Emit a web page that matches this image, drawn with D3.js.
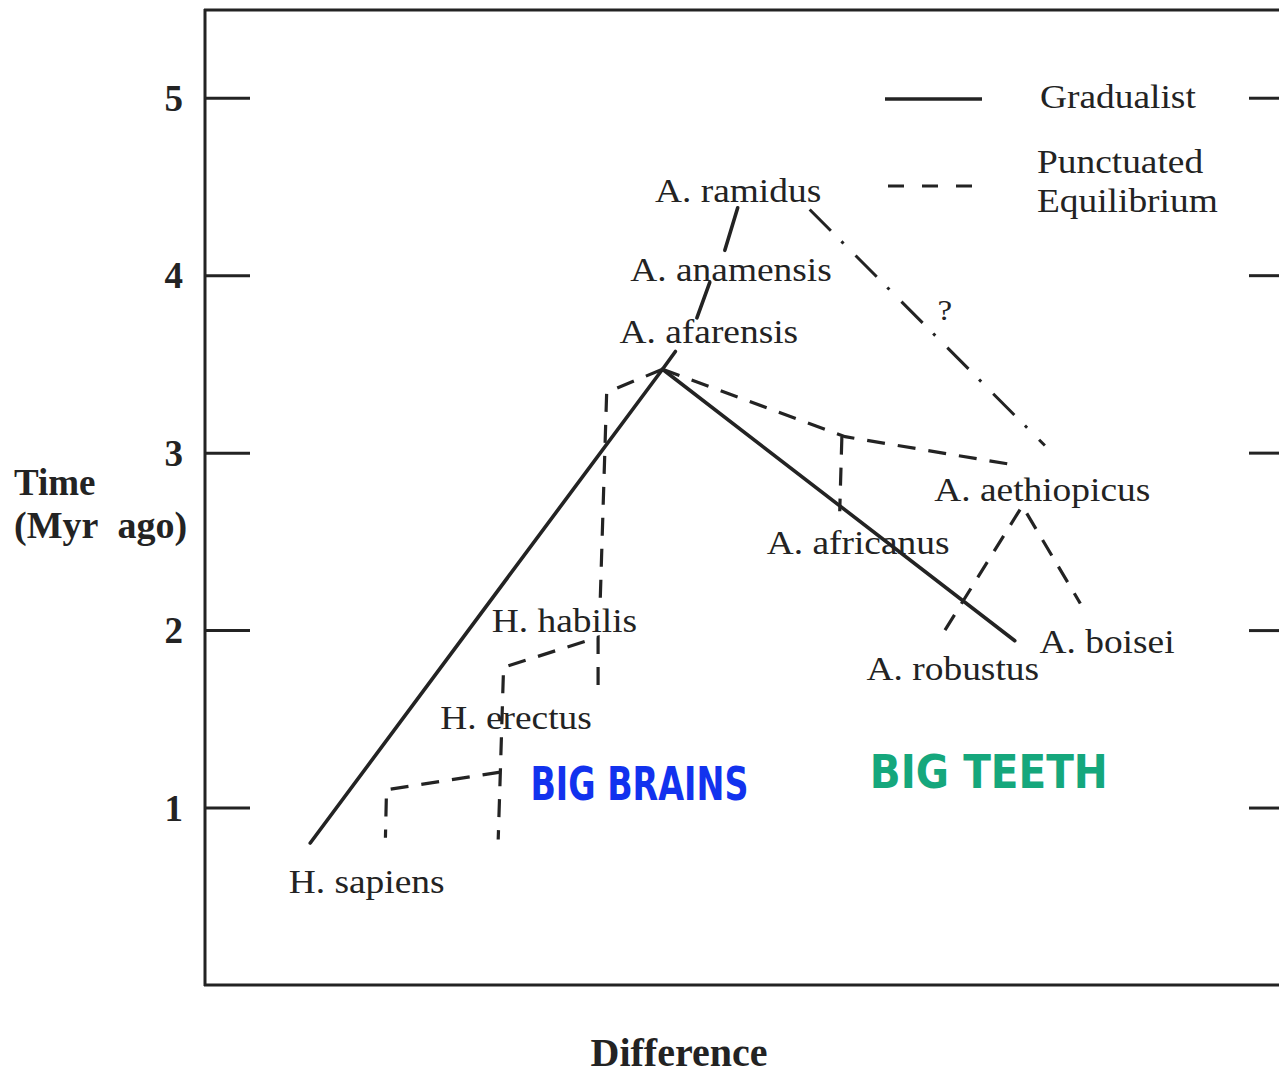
<!DOCTYPE html>
<html>
<head>
<meta charset="utf-8">
<script src="https://cdn.jsdelivr.net/npm/d3@7"></script>
<style>
  html, body { margin: 0; padding: 0; background: #ffffff; }
  svg { display: block; }
</style>
</head>
<body>
<svg id="chart" width="1279" height="1080"></svg>
<script>
// ---------- DATA ----------
// Time ticks (Myr ago)
const timeTicks = [1, 2, 3, 4, 5];

// Gradualist tree (solid) : [difference, time]
const gradualistMain = [[9.8, 0.80], [42.6, 3.47], [75.4, 1.94]];
const gradualistStem = [
  [[43.8, 3.57], [42.6, 3.47]],
  [[47.0, 3.96], [45.8, 3.76]],
  [[49.6, 4.38], [48.4, 4.14]]
];

// Punctuated equilibrium tree (dashed) : [difference, time]
const punctuatedBranches = [
  [[42.6, 3.47], [37.4, 3.34], [36.8, 2.17]],                       // habilis stem
  [[36.6, 1.69], [36.6, 1.96], [27.8, 1.79], [27.5, 1.20], [27.3, 0.82]], // habilis -> erectus
  [[27.5, 1.20], [16.9, 1.10], [16.8, 0.83]],                       // erectus -> sapiens
  [[42.6, 3.47], [59.6, 3.09], [75.4, 2.93]],                       // robust stem
  [[59.3, 3.09], [59.1, 2.67]],                                     // africanus
  [[68.9, 2.00], [76.1, 2.70], [81.5, 2.15]]                        // aethiopicus -> robustus / boisei
];

// Uncertain link (dash-dot)
const uncertainLink = [[56.3, 4.37], [78.2, 3.04]];

// Species labels : name, difference, time (label anchor)
const speciesNames = ["A. ramidus", "A. anamensis", "A. afarensis", "H. habilis", "H. erectus",
                      "H. sapiens", "A. aethiopicus", "A. africanus", "A. boisei", "A. robustus", "?"];
const speciesDiff  = [41.9, 39.6, 38.6, 26.7, 21.9, 7.8, 67.9, 52.3, 77.7, 61.6, 68.2];
const speciesTime  = [4.41, 3.97, 3.62, 1.99, 1.44, 0.52, 2.73, 2.43, 1.87, 1.72, 3.75];

// Hand-written notes
const noteTexts = ["BIG BRAINS", "BIG TEETH"];
const noteDiff  = [30.3, 61.9];
const noteTime  = [1.04, 1.11];

const legendLabels = ["Gradualist", ["Punctuated", "Equilibrium"]];

// ---------- LAYOUT ----------
const svg = d3.select("#chart");
const mLeft = 205, mRight = 1279, mBottom = 985, mTop = 9;
const x = d3.scaleLinear().domain([0, 100]).range([mLeft, mRight]);
const y = d3.scaleLinear().domain([0, 5.5]).range([mBottom, mTop]);

const ink = "#232323";
const serif = "'Liberation Serif', 'Times New Roman', serif";

// frame
svg.append("line").attr("x1", mLeft).attr("x2", mLeft).attr("y1", mTop).attr("y2", mBottom + 1)
  .attr("stroke", ink).attr("stroke-width", 3);
svg.append("line").attr("x1", mLeft - 1).attr("x2", mRight).attr("y1", mBottom).attr("y2", mBottom)
  .attr("stroke", ink).attr("stroke-width", 3);
svg.append("line").attr("x1", mLeft - 1).attr("x2", mRight).attr("y1", mTop + 1).attr("y2", mTop + 1)
  .attr("stroke", ink).attr("stroke-width", 3);

// left axis (ticks pointing inward)
const yAxisL = d3.axisLeft(y).tickValues(timeTicks).tickSize(-45).tickPadding(22)
  .tickFormat(d3.format("d"));
const gL = svg.append("g").attr("transform", `translate(${mLeft},0)`).call(yAxisL);
gL.select(".domain").remove();
gL.selectAll(".tick line").attr("stroke", ink).attr("stroke-width", 3);
gL.selectAll(".tick text").attr("fill", ink).attr("font-family", serif)
  .attr("font-weight", "bold").attr("font-size", 37).attr("dy", "0.34em");

// right axis ticks
const yAxisR = d3.axisRight(y).tickValues(timeTicks).tickSize(-30).tickFormat("");
const gR = svg.append("g").attr("transform", `translate(${mRight},0)`).call(yAxisR);
gR.select(".domain").remove();
gR.selectAll(".tick line").attr("stroke", ink).attr("stroke-width", 3);

// axis titles
svg.append("text").attr("x", 14).attr("y", 495).text("Time")
  .attr("font-family", serif).attr("font-weight", "bold").attr("font-size", 37).attr("fill", ink);
svg.append("text").attr("x", 14).attr("y", 538).text("(Myr\u00a0\u00a0ago)")
  .attr("font-family", serif).attr("font-weight", "bold").attr("font-size", 38).attr("fill", ink);
svg.append("text").attr("x", (mLeft + 1153) / 2).attr("y", 1066).attr("text-anchor", "middle")
  .text("Difference").attr("font-family", serif).attr("font-weight", "bold")
  .attr("font-size", 40).attr("fill", ink);

// ---------- TREES ----------
const line = d3.line().x(d => x(d[0])).y(d => y(d[1]));

svg.append("path").datum(gradualistMain).attr("d", line)
  .attr("fill", "none").attr("stroke", ink).attr("stroke-width", 3.6)
  .attr("stroke-linecap", "round").attr("stroke-linejoin", "round");
svg.selectAll(".stem").data(gradualistStem).join("path").attr("class", "stem")
  .attr("d", line).attr("fill", "none").attr("stroke", ink).attr("stroke-width", 3.6)
  .attr("stroke-linecap", "round");

svg.selectAll(".pe").data(punctuatedBranches).join("path").attr("class", "pe")
  .attr("d", line).attr("fill", "none").attr("stroke", ink).attr("stroke-width", 3.2)
  .attr("stroke-dasharray", "18,13");

svg.append("path").datum(uncertainLink).attr("d", line)
  .attr("fill", "none").attr("stroke", ink).attr("stroke-width", 3)
  .attr("stroke-dasharray", "30,15,3,17");

// ---------- LABELS ----------
speciesNames.forEach((name, i) => {
  svg.append("text")
    .attr("transform", `translate(${x(speciesDiff[i])},${y(speciesTime[i])}) scale(1.1,1)`)
    .text(name).attr("font-family", serif).attr("font-size", name === "?" ? 30 : 34)
    .attr("fill", ink);
});

// hand-written notes
const noteColors = ["#1232ee", "#15a77c"];
const noteWidths = [218, 238];
noteTexts.forEach((t, i) => {
  svg.append("text").attr("x", x(noteDiff[i])).attr("y", y(noteTime[i]))
    .text(t).attr("font-family", "'DejaVu Sans', sans-serif").attr("font-size", 46)
    .attr("font-weight", "bold")
    .attr("textLength", noteWidths[i]).attr("lengthAdjust", "spacingAndGlyphs")
    .attr("fill", noteColors[i]);
});

// ---------- LEGEND ----------
svg.append("line").attr("x1", 885).attr("x2", 982).attr("y1", 99).attr("y2", 99)
  .attr("stroke", ink).attr("stroke-width", 3.6);
svg.append("line").attr("x1", 888).attr("x2", 972).attr("y1", 186).attr("y2", 186)
  .attr("stroke", ink).attr("stroke-width", 3.2).attr("stroke-dasharray", "16,18");
svg.append("text").attr("transform", "translate(1040,108) scale(1.1,1)")
  .text(legendLabels[0]).attr("font-family", serif).attr("font-size", 34).attr("fill", ink);
svg.append("text").attr("transform", "translate(1037,173) scale(1.1,1)")
  .text(legendLabels[1][0]).attr("font-family", serif).attr("font-size", 34).attr("fill", ink);
svg.append("text").attr("transform", "translate(1037,212) scale(1.1,1)")
  .text(legendLabels[1][1]).attr("font-family", serif).attr("font-size", 34).attr("fill", ink);
</script>
</body>
</html>
